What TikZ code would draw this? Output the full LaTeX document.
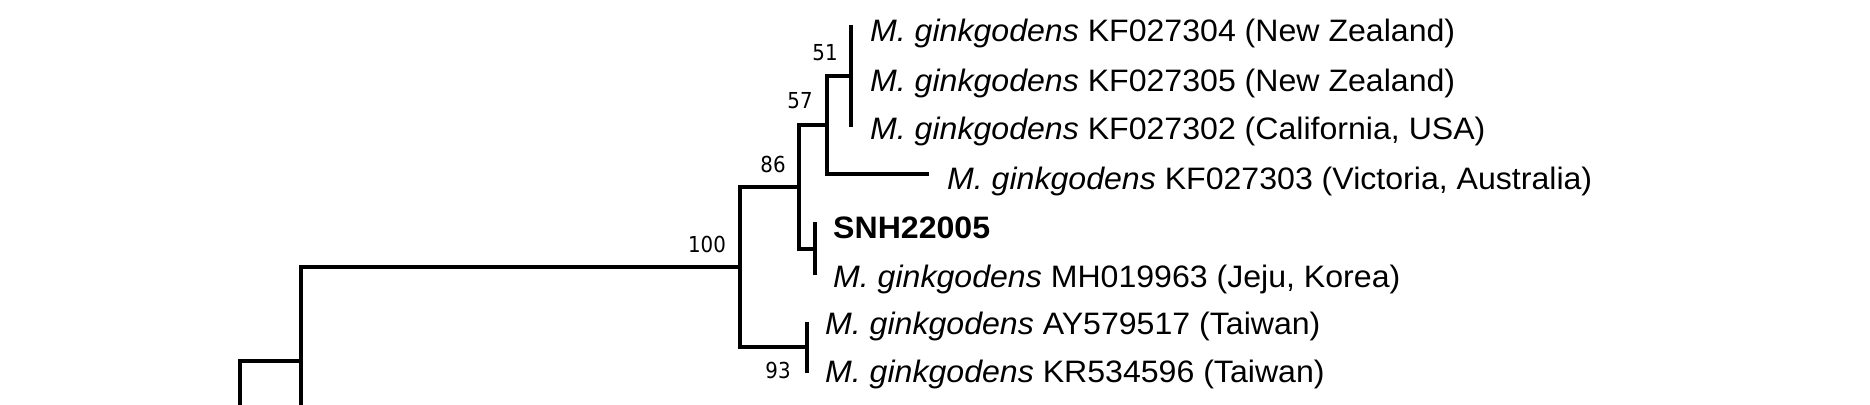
\documentclass[tikz,border=0pt]{standalone}
\usepackage{fontspec}
\setmainfont{Liberation Sans}[FakeStretch=1.035]
\newfontfamily\numfont{DejaVu Sans Condensed}
\begin{document}
\begin{tikzpicture}[x=1pt,y=-1pt,
  branch/.style={line width=4pt, line join=miter, line cap=butt},
  leaflab/.style={anchor=base west, inner sep=0pt, font=\fontsize{31}{36}\selectfont},
  boot/.style={anchor=center, inner sep=0pt, font=\numfont\fontsize{22}{24}\selectfont}]
\clip (0,0) rectangle (1870,404);
\fill[white] (0,0) rectangle (1870,404);
% internal nodes
\coordinate (root) at (240,430);
\coordinate (n1) at (301,361);
\coordinate (n1b) at (301,430);
\coordinate (n100) at (740,267);
\coordinate (n86) at (799,187);
\coordinate (n93) at (807,347);
\coordinate (n57) at (827,125);
\coordinate (nsnh) at (815,249);
\coordinate (n51) at (851,76);
% leaves
\coordinate (l1) at (851,25);
\coordinate (l3) at (851,127);
\coordinate (l4) at (929,174);
\coordinate (l5) at (815,222);
\coordinate (l6) at (815,275);
\coordinate (l7) at (807,322);
\coordinate (l8) at (807,373);
% branches
\draw[branch] (root) |- (n1);
\draw[branch] (n1) -- (n1b);
\draw[branch] (n1) |- (n100);
\draw[branch] (n100) |- (n86);
\draw[branch] (n100) |- (n93);
\draw[branch] (n86) |- (n57);
\draw[branch] (n86) |- (nsnh);
\draw[branch] (n57) |- (n51);
\draw[branch] (n57) |- (l4);
\draw[branch] (l1) -- (l3);
\draw[branch] (l5) -- (l6);
\draw[branch] (l7) -- (l8);
% leaf labels
\node[leaflab] (t1) at (870,42) {\textit{M. ginkgodens} KF027304 (New Zealand)};
\node[leaflab] (t2) at (870,92) {\textit{M. ginkgodens} KF027305 (New Zealand)};
\node[leaflab] (t3) at (870,139) {\textit{M. ginkgodens} KF027302 (California, USA)};
\node[leaflab] (t4) at (947,189) {\textit{M. ginkgodens} KF027303 (Victoria, Australia)};
\node[leaflab] (t5) at (833,238) {\textbf{SNH22005}};
\node[leaflab] (t6) at (833,287) {\textit{M. ginkgodens} MH019963 (Jeju, Korea)};
\node[leaflab] (t7) at (825,334) {\textit{M. ginkgodens} AY579517 (Taiwan)};
\node[leaflab] (t8) at (825,382) {\textit{M. ginkgodens} KR534596 (Taiwan)};
% bootstrap values
\node[boot] (b51) at (825,53) {51};
\node[boot] (b57) at (800,101) {57};
\node[boot] (b86) at (773,164) {86};
\node[boot] (b100) at (707,244) {100};
\node[boot] (b93) at (778,370) {93};
\end{tikzpicture}
\end{document}
